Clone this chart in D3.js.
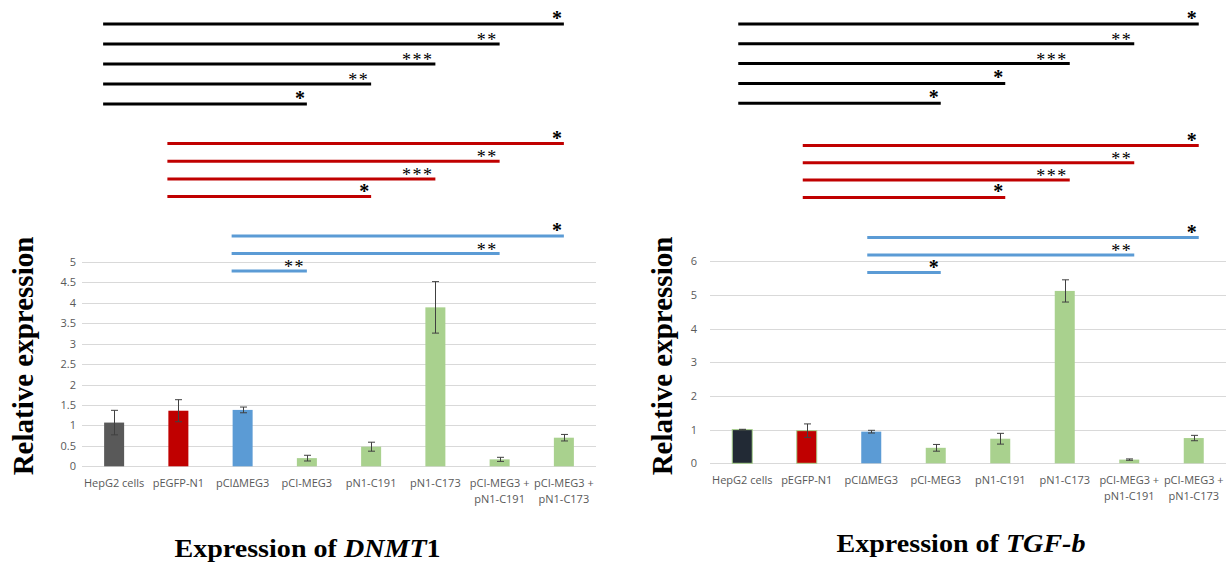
<!DOCTYPE html>
<html>
<head>
<meta charset="utf-8">
<script src="https://cdn.jsdelivr.net/npm/d3@7"></script>
<style>
  html, body { margin: 0; padding: 0; background: #fff; }
  svg { display: block; }
  .tick text { font-family: "Open Sans", sans-serif; font-size: 11px; fill: #595959; }
</style>
</head>
<body>
<svg id="chart" width="1230" height="570"></svg>
<script>
// Sample groups shared by both panels
const categories = ["HepG2 cells", "pEGFP-N1", "pCI\u0394MEG3", "pCI-MEG3", "pN1-C191", "pN1-C173",
                    "pCI-MEG3 + pN1-C191", "pCI-MEG3 + pN1-C173"];

// DNMT1 relative expression (mean, error)
const dnmt1Values = [1.07, 1.36, 1.38, 0.20, 0.48, 3.89, 0.17, 0.70];
const dnmt1Errors = [0.30, 0.27, 0.07, 0.07, 0.11, 0.63, 0.05, 0.08];
const dnmt1Ticks  = [0, 0.5, 1, 1.5, 2, 2.5, 3, 3.5, 4, 4.5, 5];

// TGF-b relative expression (mean, error)
const tgfbValues = [1.00, 0.97, 0.94, 0.46, 0.73, 5.12, 0.11, 0.75];
const tgfbErrors = [0.01, 0.20, 0.04, 0.10, 0.16, 0.33, 0.02, 0.08];
const tgfbTicks  = [0, 1, 2, 3, 4, 5, 6];

// Bar fills per group
const dnmt1Colors = ["#595959", "#c00000", "#5b9bd5", "#a9d18e", "#a9d18e", "#a9d18e", "#a9d18e", "#a9d18e"];
const tgfbColors  = ["#222a35", "#c00000", "#5b9bd5", "#a9d18e", "#a9d18e", "#a9d18e", "#a9d18e", "#a9d18e"];

// Significance comparisons: [from group, to group, mark]
const dnmt1VsHepG2 = [[0, 7, "*"], [0, 6, "**"], [0, 5, "***"], [0, 4, "**"], [0, 3, "*"]];
const dnmt1VsEGFP  = [[1, 7, "*"], [1, 6, "**"], [1, 5, "***"], [1, 4, "*"]];
const dnmt1VsDelta = [[2, 7, "*"], [2, 6, "**"], [2, 3, "**"]];
const tgfbVsHepG2  = [[0, 7, "*"], [0, 6, "**"], [0, 5, "***"], [0, 4, "*"], [0, 3, "*"]];
const tgfbVsEGFP   = [[1, 7, "*"], [1, 6, "**"], [1, 5, "***"], [1, 4, "*"]];
const tgfbVsDelta  = [[2, 7, "*"], [2, 6, "**"], [2, 3, "*"]];

const svg = d3.select("#chart");

function drawPanel(cfg) {
  const g = svg.append("g");
  const x = d3.scaleBand().domain(d3.range(categories.length)).range([cfg.x0, cfg.x1]);
  const y = d3.scaleLinear().domain([0, cfg.max]).range([cfg.yZero, cfg.yTop]);
  const barW = 20;
  const cx = i => x(i) + x.bandwidth() / 2;

  // horizontal gridlines
  g.append("g").selectAll("line").data(cfg.ticks).join("line")
    .attr("x1", cfg.x0).attr("x2", cfg.x1)
    .attr("y1", d => Math.round(y(d)) + 0.5).attr("y2", d => Math.round(y(d)) + 0.5)
    .attr("stroke", "#d9d9d9").attr("stroke-width", 1);

  // y tick labels
  const yAxis = d3.axisLeft(y).tickValues(cfg.ticks).tickSize(0).tickPadding(0)
    .tickFormat(d3.format("~g"));
  const ax = g.append("g").attr("transform", `translate(${cfg.tickX},0)`).call(yAxis);
  ax.select(".domain").remove();

  // bars
  g.append("g").selectAll("rect").data(cfg.values).join("rect")
    .attr("x", (d, i) => cx(i) - barW / 2)
    .attr("width", barW)
    .attr("y", d => y(d))
    .attr("height", d => cfg.yZero - y(d))
    .attr("fill", (d, i) => cfg.colors[i])
    .attr("stroke", (d, i) => cfg.outline && i < 2 ? "#a9d18e" : "none")
    .attr("stroke-width", 1);

  // error bars
  const eb = g.append("g").attr("stroke", "#404040").attr("stroke-width", 1).attr("fill", "none");
  cfg.values.forEach((v, i) => {
    const e = cfg.errors[i];
    const hi = y(v + e), lo = y(v - e), c = Math.round(cx(i)) + 0.5;
    eb.append("line").attr("x1", c).attr("x2", c).attr("y1", hi).attr("y2", lo);
    eb.append("line").attr("x1", c - 3.5).attr("x2", c + 3.5).attr("y1", hi).attr("y2", hi);
    eb.append("line").attr("x1", c - 3.5).attr("x2", c + 3.5).attr("y1", lo).attr("y2", lo);
  });

  // category labels (split combined treatments onto two lines)
  const lab = g.append("g").attr("font-family", "'Open Sans', sans-serif")
    .attr("font-size", 11).attr("fill", "#595959").attr("text-anchor", "middle");
  categories.forEach((c, i) => {
    const parts = c.includes(" + ") ? [c.split(" + ")[0] + " +", c.split(" + ")[1]] : [c];
    const t = lab.append("text").attr("x", cx(i)).attr("y", cfg.labelY);
    parts.forEach((p, k) => t.append("tspan").attr("x", cx(i)).attr("dy", k ? 16 : 0).text(p));
  });

  // significance bars
  cfg.groups.forEach(grp => {
    grp.rows.forEach((r, k) => {
      const yy = grp.top + k * grp.step;
      const xa = cx(r[0]) - cfg.startInset, xb = cx(r[1]) + cfg.endOutset;
      g.append("line").attr("x1", xa).attr("x2", xb).attr("y1", yy).attr("y2", yy)
        .attr("stroke", grp.color).attr("stroke-width", 3);
      const single = r[2].length === 1;
      g.append("text").attr("x", xb - 2).attr("y", yy + (single ? 1 : 2))
        .attr("text-anchor", "end")
        .attr("font-family", "'Liberation Serif', 'Times New Roman', serif")
        .attr("font-size", single ? 20 : 18)
        .attr("font-weight", single ? "bold" : "normal")
        .attr("letter-spacing", single ? 0 : 1.5)
        .attr("fill", "#000").text(r[2]);
    });
  });

  // y axis title
  g.append("text")
    .attr("transform", `translate(${cfg.yTitleX},356) rotate(-90)`)
    .attr("text-anchor", "middle")
    .attr("font-family", "'Liberation Serif', 'Times New Roman', serif")
    .attr("font-weight", "bold").attr("font-size", 29)
    .text("Relative expression");

  // panel title
  const tt = g.append("text")
    .attr("transform", `translate(${cfg.titleX},${cfg.titleY}) scale(1.08,1)`)
    .attr("text-anchor", "middle")
    .attr("font-family", "'Liberation Serif', 'Times New Roman', serif")
    .attr("font-weight", "bold").attr("font-size", 26);
  tt.append("tspan").text("Expression of ");
  tt.append("tspan").attr("font-style", "italic").text(cfg.gene);
  if (cfg.geneSuffix) tt.append("tspan").text(cfg.geneSuffix);
}

drawPanel({
  x0: 82, x1: 596, yZero: 466.3, yTop: 262, max: 5, ticks: dnmt1Ticks, tickX: 76,
  values: dnmt1Values, errors: dnmt1Errors, colors: dnmt1Colors, outline: false,
  labelY: 487, startInset: 11, endOutset: 0, yTitleX: 33,
  titleX: 307.5, titleY: 557, gene: "DNMT", geneSuffix: "1",
  groups: [
    { rows: dnmt1VsHepG2, color: "#000000", top: 24, step: 20 },
    { rows: dnmt1VsEGFP,  color: "#c00000", top: 143.5, step: 17.7 },
    { rows: dnmt1VsDelta, color: "#5b9bd5", top: 236, step: 17.5 }
  ]
});

drawPanel({
  x0: 710, x1: 1226, yZero: 463.3, yTop: 261.3, max: 6, ticks: tgfbTicks, tickX: 697,
  values: tgfbValues, errors: tgfbErrors, colors: tgfbColors, outline: true,
  labelY: 484, startInset: 4, endOutset: 5, yTitleX: 672,
  titleX: 961, titleY: 552, gene: "TGF-b", geneSuffix: "",
  groups: [
    { rows: tgfbVsHepG2, color: "#000000", top: 24, step: 19.8 },
    { rows: tgfbVsEGFP,  color: "#c00000", top: 145.5, step: 17.3 },
    { rows: tgfbVsDelta, color: "#5b9bd5", top: 237.5, step: 17.5 }
  ]
});
</script>
</body>
</html>
